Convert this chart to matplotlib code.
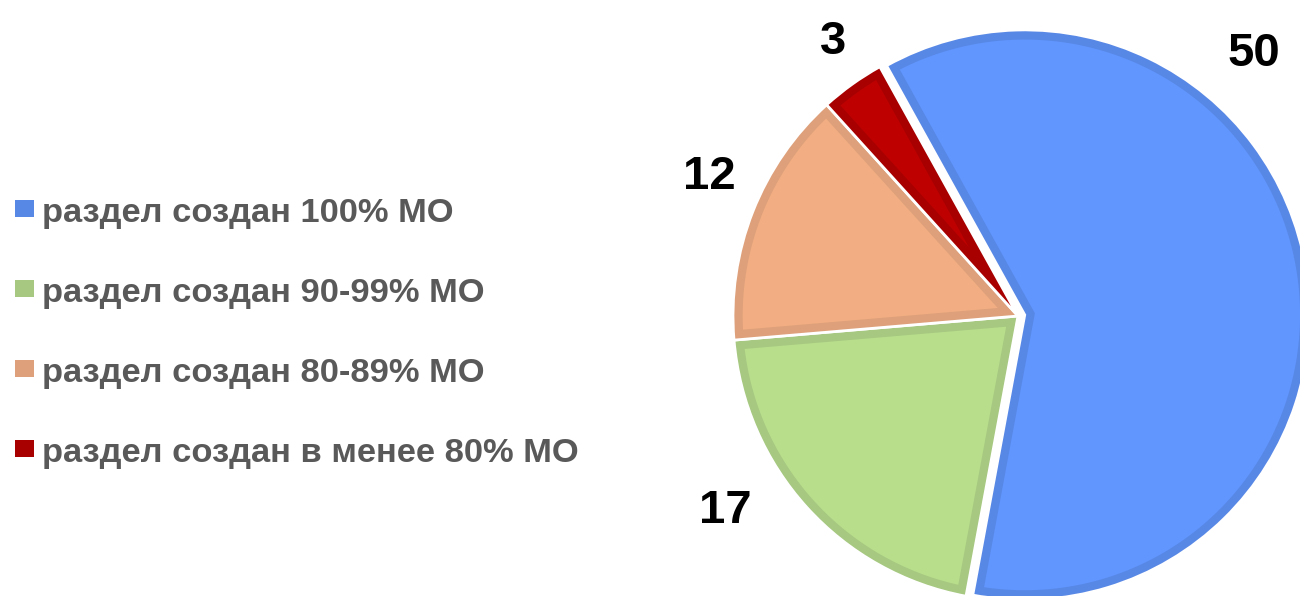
import numpy as np
import matplotlib
matplotlib.use("Agg")
import matplotlib.pyplot as plt
from matplotlib.patches import Rectangle, Polygon

# ---- data ----
categories = ["раздел создан 100% МО", "раздел создан 90-99% МО",
              "раздел создан 80-89% МО", "раздел создан в менее 80% МО"]
values = [50, 17, 12, 3]
value_labels = ["50", "17", "12", "3"]

fill_colors = ["#6196FF", "#B8DE8C", "#F2AE82", "#BE0000"]
edge_colors = ["#5888E6", "#A6C880", "#DEA07A", "#A80000"]

W, H = 1300, 596
fig = plt.figure(figsize=(W / 100, H / 100), dpi=100)

# pie axes: centre (1018, 316) px, radius 285 px
cx, cy, R = 1018, 316, 285
ax = fig.add_axes([(cx - R) / W, (H - cy - R) / H, 2 * R / W, 2 * R / H])

wedges, _ = ax.pie(values, colors=edge_colors, startangle=119, counterclock=False,
                   explode=[0.024, 0, 0, 0], radius=1,
                   wedgeprops=dict(linewidth=2.0, edgecolor="white"))
ax.set_xlim(-1, 1)
ax.set_ylim(-1, 1)
ax.axis("off")

# inner lighter part of each wedge (inset by a border band of width d)
d = 0.034
for w, fc in zip(wedges, fill_colors):
    c = np.array(w.center)
    t1, t2 = np.radians(w.theta1), np.radians(w.theta2)
    half = (t2 - t1) / 2
    mid = t1 + half
    s = d / np.sin(half)
    apex = c + s * np.array([np.cos(mid), np.sin(mid)])
    rin = w.r - d
    delta = np.arcsin(d / rin)
    phi = np.linspace(t1 + delta, t2 - delta, 200)
    arc = np.column_stack([c[0] + rin * np.cos(phi), c[1] + rin * np.sin(phi)])
    poly = Polygon(np.vstack([apex, arc]), closed=True, facecolor=fc,
                   edgecolor="none", zorder=w.get_zorder() + 0.1)
    ax.add_patch(poly)

# value labels (placed like the original)
label_pos = [(0.827, 0.876), (-1.028, -0.725), (-1.084, 0.444), (-0.650, 0.918)]
for txt, (x, y) in zip(value_labels, label_pos):
    ax.text(x, y, txt, ha="center", va="baseline", fontsize=34, fontweight="bold",
            family=["Liberation Sans Narrow", "Liberation Sans", "DejaVu Sans"],
            color="black", clip_on=False)

# legend (manual)
baselines = [222, 302, 382, 462]
for lab, col, b in zip(categories, edge_colors, baselines):
    fig.add_artist(Rectangle((15 / W, (H - b + 5) / H), 19 / W, 17 / H,
                             transform=fig.transFigure, facecolor=col, edgecolor="none"))
    fig.text(42 / W, (H - b) / H, lab, ha="left", va="baseline", fontsize=24.8,
             fontweight="bold", color="#595959",
             family=["Liberation Sans", "DejaVu Sans"])

fig.savefig("out.png", dpi=100)
